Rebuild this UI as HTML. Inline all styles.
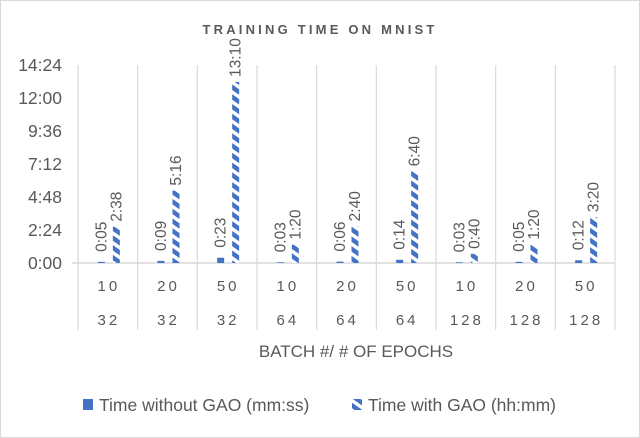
<!DOCTYPE html>
<html><head><meta charset="utf-8"><style>
html,body{margin:0;padding:0;background:#fff}
svg{display:block;font-family:"Liberation Sans",sans-serif}
</style></head><body>
<svg id="c" width="640" height="438">
<defs>
<pattern id="stripe" patternUnits="userSpaceOnUse" width="8" height="8" patternTransform="rotate(35)">
<rect width="8" height="8" fill="#fff"/><rect width="8" height="4.5" fill="#4472C4"/>
</pattern>
</defs>
<rect x="0.5" y="0.5" width="639" height="437" fill="#fff" stroke="#d9d9d9"/>
<text x="320" y="34" text-anchor="middle" font-size="13" font-weight="bold" fill="#595959" letter-spacing="3.2">TRAINING TIME ON MNIST</text>
<g id="plot"></g>
<text x="356" y="357" text-anchor="middle" font-size="17" fill="#595959">BATCH #/ # OF EPOCHS</text>
<g>
<g>
<rect x="83" y="399" width="10" height="11" fill="#4472C4"/>
<text x="99" y="411" font-size="17.5" fill="#595959">Time without GAO (mm:ss)</text></g>
<g>
<rect x="352" y="399" width="10" height="11" fill="url(#stripe)"/>
<text x="368" y="411" font-size="17.5" fill="#595959">Time with GAO (hh:mm)</text></g>
</g>
</svg>
<script>
const batches=["10","20","50","10","20","50","10","20","50"];
const epochs=["32","32","32","64","64","64","128","128","128"];
const withoutGao=[5/60,9/60,23/60,3/60,6/60,14/60,3/60,5/60,12/60];
const withoutLabels=["0:05","0:09","0:23","0:03","0:06","0:14","0:03","0:05","0:12"];
const withGao=[2+38/60,5+16/60,13+10/60,1+20/60,2+40/60,6+40/60,40/60,1+20/60,3+20/60];
const withLabels=["2:38","5:16","13:10","1:20","2:40","6:40","0:40","1:20","3:20"];
const yTicks=[0,2.4,4.8,7.2,9.6,12,14.4];
const yTickLabels=["0:00","2:24","4:48","7:12","9:36","12:00","14:24"];

const NS="http://www.w3.org/2000/svg";
const g=document.getElementById('plot');
const X0=78,X1=615,Y0=263,Y1=65,YMAX=14.4;
const cw=(X1-X0)/batches.length;
const y=v=>Y0-(v/YMAX)*(Y0-Y1);
const x=i=>X0+i*cw;
function mk(t,a){const e=document.createElementNS(NS,t);for(const k in a)e.setAttribute(k,a[k]);g.appendChild(e);return e;}
yTicks.forEach((v,i)=>{
 const t=mk('text',{x:62,y:y(v)+6,'text-anchor':'end','font-size':17.5,fill:'#595959'});
 t.textContent=yTickLabels[i];
 
 
});
for(let i=0;i<=batches.length;i++){
 const l=mk('line',{x1:x(i),x2:x(i),y1:Y1,y2:330,stroke:'#d9d9d9','stroke-width':1.2});
 
 
}
const ax=mk('line',{x1:72,x2:X1,y1:Y0,y2:Y0,stroke:'#d9d9d9','stroke-width':1.5});


batches.forEach((b,i)=>{
 const c=x(i)+cw/2;
 const t1=mk('text',{x:c+1,y:291,'text-anchor':'middle','font-size':15,fill:'#595959','letter-spacing':3});
 t1.textContent=b;
 
 
 const t2=mk('text',{x:c+1,y:325,'text-anchor':'middle','font-size':15,fill:'#595959','letter-spacing':3});
 t2.textContent=epochs[i];
 
 
 const bx1=c-10,bx2=c+5,bw=7;
 const r1=mk('rect',{x:bx1,y:y(withoutGao[i]),width:bw,height:Y0-y(withoutGao[i]),fill:'#4472C4'});
 
 
 const r2=mk('rect',{x:bx2,y:y(withGao[i]),width:bw,height:Y0-y(withGao[i]),fill:'url(#stripe)'});
 
 
 const l1y=y(withoutGao[i])-10, l1x=bx1+bw/2+5;
 const a=mk('text',{x:l1x,y:l1y,'font-size':15.5,fill:'#595959',transform:`rotate(-90 ${l1x} ${l1y})`});
 a.textContent=withoutLabels[i];
 
 
 const l2y=y(withGao[i])-5, l2x=bx2+bw/2+5;
 const b2=mk('text',{x:l2x,y:l2y,'font-size':15.5,fill:'#595959',transform:`rotate(-90 ${l2x} ${l2y})`});
 b2.textContent=withLabels[i];
 
 
});
</script>
</body></html>
